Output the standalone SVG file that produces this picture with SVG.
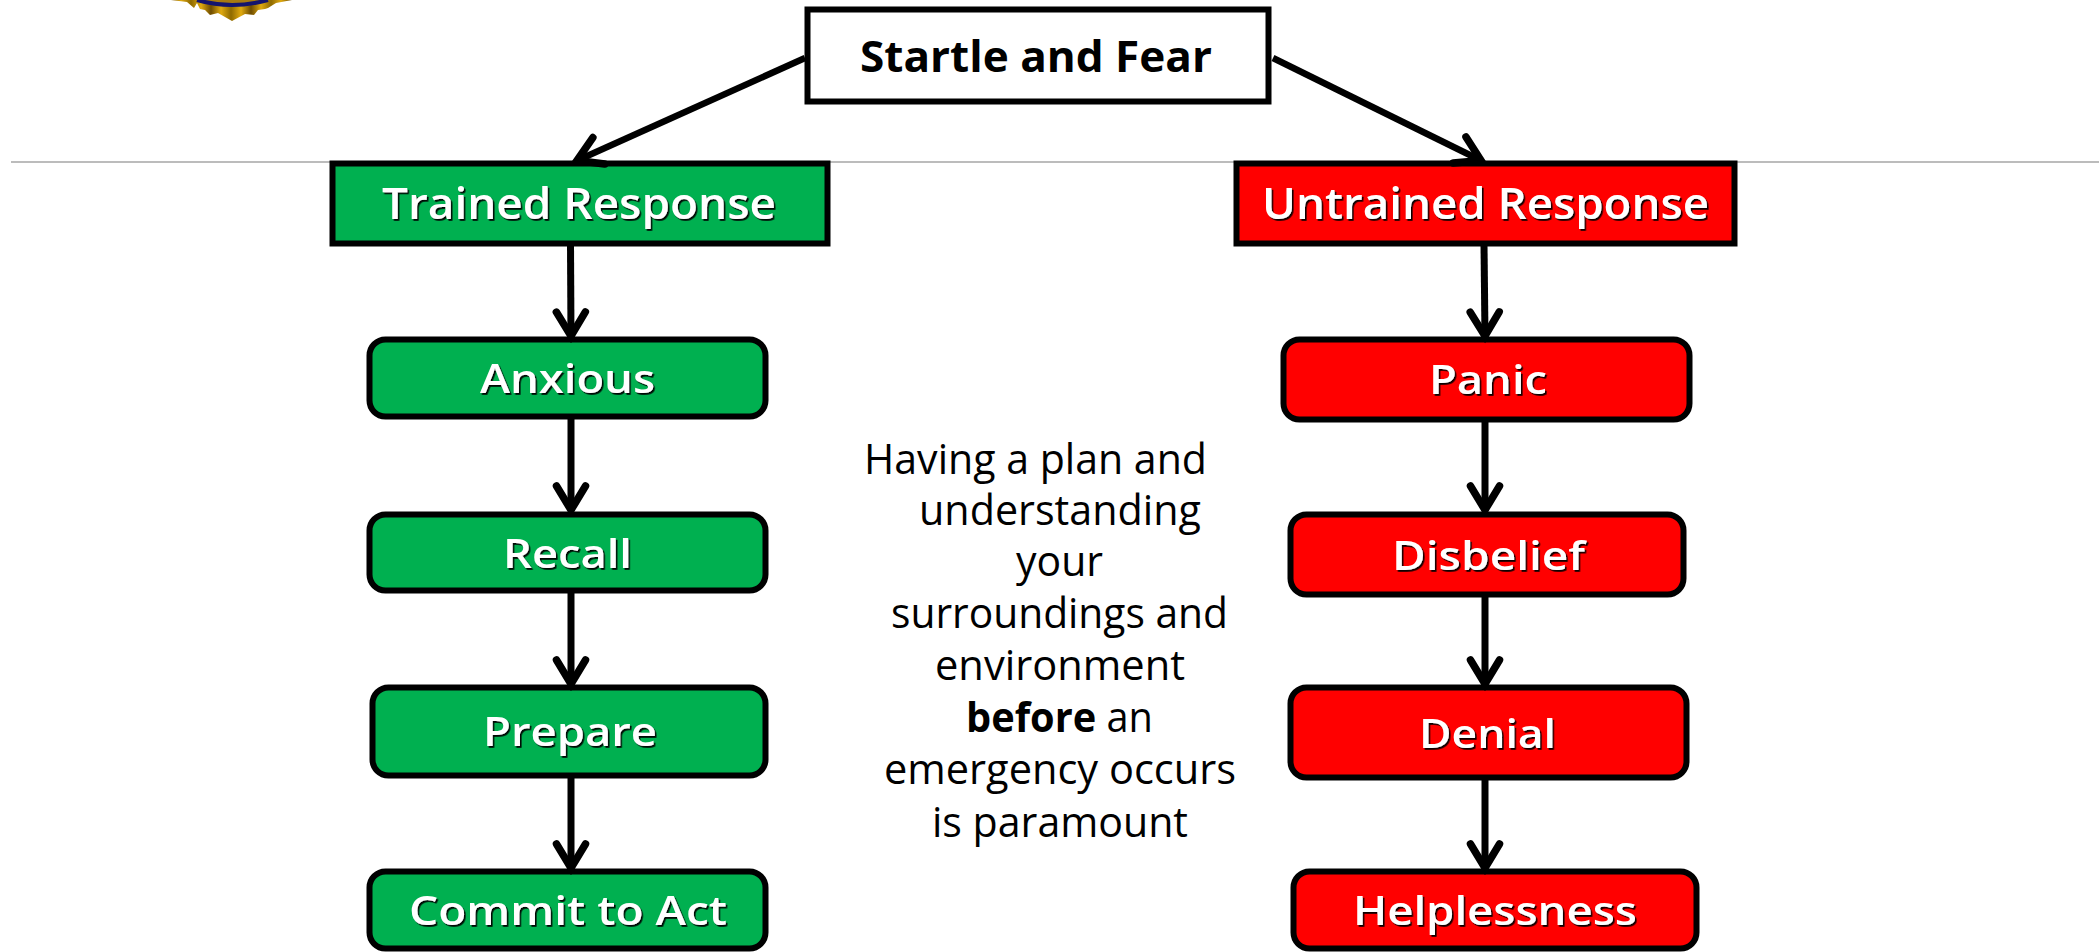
<svg xmlns="http://www.w3.org/2000/svg" width="2099" height="952" viewBox="0 0 2099 952">
<style>
text{font-family:"Open Sans","Noto Sans",sans-serif}
.sq{stroke:#000;stroke-width:6}
.rd{stroke:#000;stroke-width:6}
.g{fill:#00b050}
.r{fill:#ff0000}
.w{fill:#fff}
.lb{fill:#fff;font-size:40px;font-weight:600;filter:url(#sh)}
.hd{font-size:44px}
.tt{fill:#000;font-size:43px;font-weight:700}
.body{fill:#000;font-size:42px}
.b{font-weight:700}
.c{fill:none;stroke:#000;stroke-width:7;marker-end:url(#ah)}
.c2{fill:none;stroke:#000;stroke-width:6.5;marker-end:url(#ah)}
</style>
<defs>
<marker id="ah" markerUnits="userSpaceOnUse" markerWidth="40" markerHeight="44" refX="31" refY="20" orient="auto" overflow="visible">
<path d="M6,5.5 L30,20 L6,34.5" fill="none" stroke="#000" stroke-width="7.5" stroke-linecap="round" stroke-linejoin="miter"/>
</marker>
<filter id="sh" x="-5%" y="-20%" width="110%" height="140%">
<feDropShadow dx="1.6" dy="1.8" stdDeviation="0.5" flood-color="#000" flood-opacity="0.95"/>
</filter>
<linearGradient id="gold" gradientUnits="userSpaceOnUse" x1="171" y1="0" x2="191" y2="0" spreadMethod="reflect">
<stop offset="0" stop-color="#6e4c00"/><stop offset="0.5" stop-color="#e0aa10"/><stop offset="1" stop-color="#8f6a00"/>
</linearGradient>
</defs>
<g id="logo">
<path d="M171,0 L187,2 L194,8 L197,3 L200,9 L205,10 L210,15 L218,13 L232,21 L245,14 L254,15 L258,10 L265,9 L268,8 L276,3 L292,0 Z" fill="url(#gold)"/>
<path d="M197,0 Q232,10 268,0 Z" fill="#a87a10"/>
<path d="M197,0 Q232,10 268,0" fill="none" stroke="#14146e" stroke-width="4"/>
</g>
<line id="rule" x1="11" y1="162" x2="2099" y2="162" stroke="#a6a6a6" stroke-width="1.5"/>
<g id="startle"><rect class="sq w" x="807.5" y="9.5" width="461" height="92"/><text class="tt" x="860" y="72" textLength="352" lengthAdjust="spacingAndGlyphs">Startle and Fear</text></g>
<g id="trained"><rect class="sq g" x="332.5" y="163.5" width="495" height="80"/><text class="lb hd" x="382" y="219" textLength="394" lengthAdjust="spacingAndGlyphs">Trained Response</text></g>
<g id="untrained"><rect class="sq r" x="1236.5" y="163.5" width="498" height="80"/><text class="lb hd" x="1262" y="219" textLength="447" lengthAdjust="spacingAndGlyphs">Untrained Response</text></g>
<g id="anxious"><rect class="rd g" x="369.5" y="339.5" width="396" height="77" rx="16"/><text class="lb" x="480" y="393" textLength="175" lengthAdjust="spacingAndGlyphs">Anxious</text></g>
<g id="recall"><rect class="rd g" x="369.5" y="514.5" width="396" height="76" rx="16"/><text class="lb" x="503" y="568" textLength="129" lengthAdjust="spacingAndGlyphs">Recall</text></g>
<g id="prepare"><rect class="rd g" x="372.5" y="687.5" width="393" height="88" rx="16"/><text class="lb" x="483" y="746" textLength="174" lengthAdjust="spacingAndGlyphs">Prepare</text></g>
<g id="commit"><rect class="rd g" x="369.5" y="871.5" width="396" height="77" rx="16"/><text class="lb" x="409" y="925" textLength="318" lengthAdjust="spacingAndGlyphs">Commit to Act</text></g>
<g id="panic"><rect class="rd r" x="1283.5" y="339.5" width="406" height="80" rx="16"/><text class="lb" x="1429" y="394" textLength="118" lengthAdjust="spacingAndGlyphs">Panic</text></g>
<g id="disbelief"><rect class="rd r" x="1290.5" y="514.5" width="393" height="80" rx="16"/><text class="lb" x="1392" y="570" textLength="193" lengthAdjust="spacingAndGlyphs">Disbelief</text></g>
<g id="denial"><rect class="rd r" x="1290.5" y="687.5" width="396" height="90" rx="16"/><text class="lb" x="1419" y="748" textLength="137" lengthAdjust="spacingAndGlyphs">Denial</text></g>
<g id="helplessness"><rect class="rd r" x="1293.5" y="871.5" width="403" height="77" rx="16"/><text class="lb" x="1353" y="925" textLength="284" lengthAdjust="spacingAndGlyphs">Helplessness</text></g>
<g id="note">
<text class="body"><tspan x="864" y="474" textLength="343" lengthAdjust="spacingAndGlyphs">Having a plan and</tspan><tspan x="919" y="525" textLength="282" lengthAdjust="spacingAndGlyphs">understanding</tspan><tspan x="1016" y="576" textLength="87" lengthAdjust="spacingAndGlyphs">your</tspan><tspan x="891" y="628" textLength="337" lengthAdjust="spacingAndGlyphs">surroundings and</tspan><tspan x="935" y="680" textLength="250" lengthAdjust="spacingAndGlyphs">environment</tspan><tspan x="966" y="732" textLength="187" lengthAdjust="spacingAndGlyphs"><tspan class="b">before</tspan> an</tspan><tspan x="884" y="784" textLength="352" lengthAdjust="spacingAndGlyphs">emergency occurs</tspan><tspan x="932" y="837" textLength="256" lengthAdjust="spacingAndGlyphs">is paramount</tspan></text>
</g>
<g id="connectors">
<path class="c2" d="M805,58 L576,161"/>
<path class="c2" d="M1273,58 L1482,161"/>
<path class="c" d="M570.5,244 L571,337"/>
<path class="c" d="M571,417 L571,511"/>
<path class="c" d="M571,591 L571,685"/>
<path class="c" d="M571,776 L571,869"/>
<path class="c" d="M1484,244 L1485,337"/>
<path class="c" d="M1485,417 L1485,511"/>
<path class="c" d="M1485,592 L1485,685"/>
<path class="c" d="M1485,778 L1485,869"/>
</g>
</svg>
